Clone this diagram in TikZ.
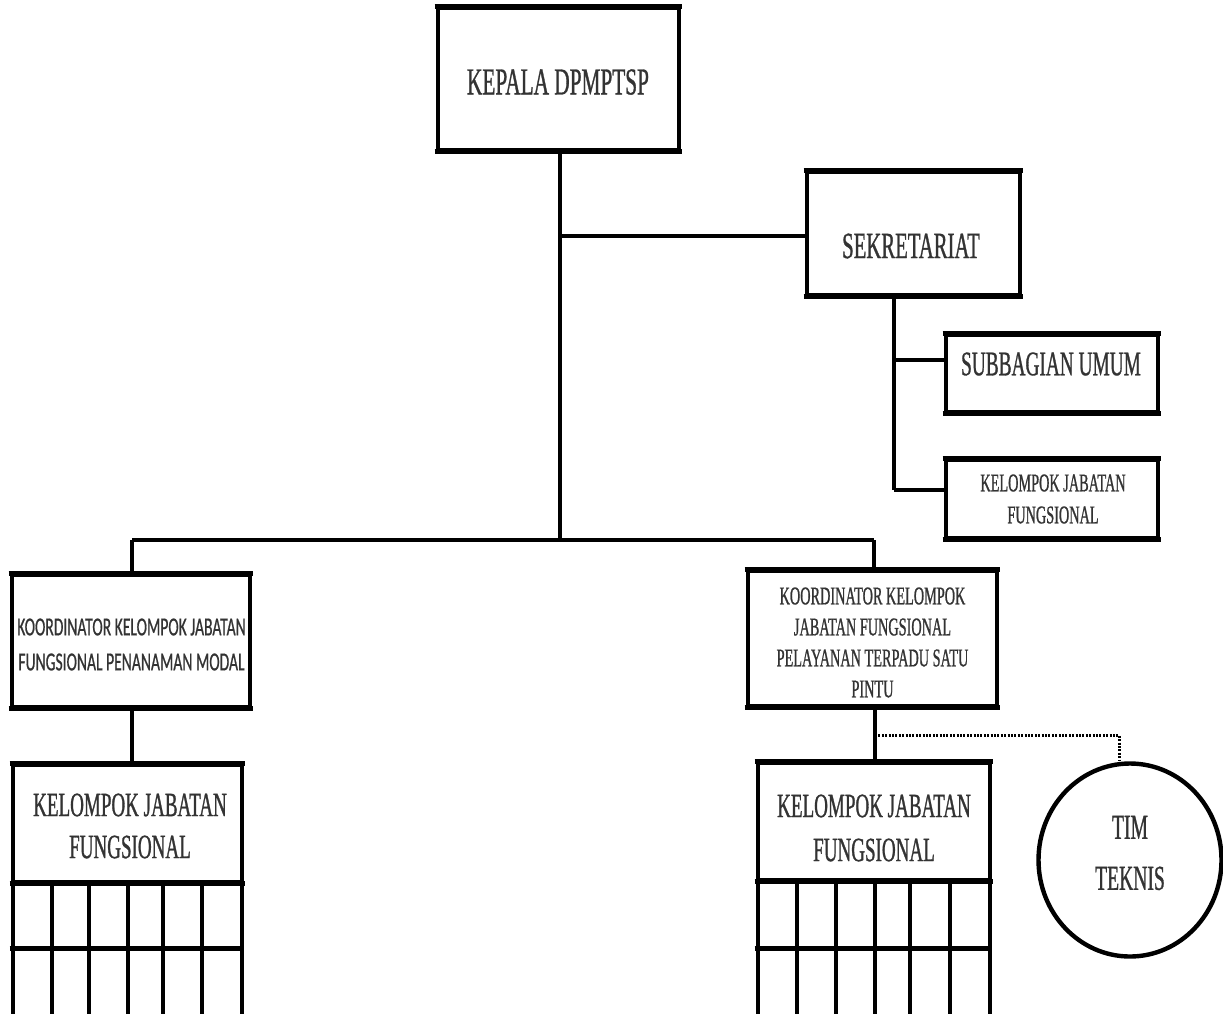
\documentclass[tikz,border=0pt]{standalone}
\usepackage{fontspec}
\newfontfamily\cond{Liberation Serif}[FakeStretch=0.56,FakeBold=0.8]
\newfontfamily\condsans{Carlito}[FakeStretch=0.6,FakeBold=0.6]
\usetikzlibrary{shapes.geometric}
\tikzset{
  box/.style={draw=black, line width=3.4pt, inner sep=0pt, fill=white},
  txt/.style={inner sep=0pt, align=center, text=black!80},
  conn/.style={draw=black, line width=3.4pt},
  hconn/.style={draw=black, line width=4.4pt},
  thickedge/.style={draw=black, line width=5pt},
  gridline/.style={draw=black, line width=3.4pt},
  dots/.style={draw=black, line width=3pt, dash pattern=on 2pt off 1.4pt},
}
\begin{document}
\begin{tikzpicture}[x=1pt,y=-1pt]
\useasboundingbox[fill=white] (0,0) rectangle (1223,1013);

% junction coordinates
\coordinate (jk) at (560,236);
\coordinate (mb) at (560,540);
\coordinate (mbL) at (132,540);
\coordinate (mbR) at (874,540);
\coordinate (sekj1) at (894,360);
\coordinate (sekj2) at (894,490);
\coordinate (dj1) at (875,735);
\coordinate (dj2) at (1119,735);

% boxes
\node[box, minimum width=241pt, minimum height=142pt] (kepala) at (558.5,79) {};
\node[box, minimum width=213pt, minimum height=123pt] (sek) at (913.5,233.5) {};
\node[box, minimum width=212pt, minimum height=77pt] (sub) at (1052,373.5) {};
\node[box, minimum width=212pt, minimum height=78pt] (kjfs) at (1052,499) {};
\node[box, minimum width=238pt, minimum height=132pt] (koordL) at (131,641) {};
\node[box, minimum width=249pt, minimum height=135pt] (koordR) at (872.5,638.5) {};
\node[box, minimum width=229pt, minimum height=117pt] (kjfL) at (127.5,823.5) {};
\node[box, minimum width=232pt, minimum height=117pt] (kjfR) at (874,821.5) {};
\node[draw=black, line width=4.4pt, ellipse, minimum width=183pt, minimum height=193pt, inner sep=0pt] (tim) at (1130,860) {};

% thicker top/bottom edges
\foreach \n in {kepala,sek,sub,kjfs,koordL,koordR,kjfL,kjfR}{
  \draw[thickedge] ([xshift=-1.7pt]\n.north west) -- ([xshift=1.7pt]\n.north east);
  \draw[thickedge] ([xshift=-1.7pt]\n.south west) -- ([xshift=1.7pt]\n.south east);
}

% connectors
\draw[conn] (kepala.south -| mb) -- (mb);
\draw[hconn] (jk) -- (jk -| sek.west);
\draw[conn, line width=3.8pt] (mbL) -- (mbR);
\draw[conn] (mbL) -- (mbL |- koordL.north);
\draw[conn] (mbR) -- (mbR |- koordR.north);
\draw[conn] (sek.south -| sekj1) -- (sekj2);
\draw[hconn] (sekj1) -- (sekj1 -| sub.west);
\draw[hconn] (sekj2) -- (sekj2 -| kjfs.west);
\draw[conn] (koordL.south -| mbL) -- (kjfL.north -| mbL);
\draw[conn] (koordR.south -| dj1) -- (kjfR.north -| dj1);
\draw[dots] (dj1) -- (dj2) -- (dj2 |- tim.north);

% grids
\foreach \x in {13,52,89,128,163,202,242}{
  \draw[gridline] (\x,882) -- (\x,1015);
}
\draw[thickedge] ([xshift=-1.7pt]kjfL.south west) ++(0,65) -- ++(232.4,0);
\foreach \x in {758,797,836,875,910,950,990}{
  \draw[gridline] (\x,880) -- (\x,1015);
}
\draw[thickedge] ([xshift=-1.7pt]kjfR.south west) ++(0,67) -- ++(235.4,0);

% texts
\node[txt, font=\cond\fontsize{38}{38}\selectfont] (tkepala) at (558,82) {KEPALA DPMPTSP};
\node[txt, font=\cond\fontsize{37}{37}\selectfont] (tsek) at (911,246) {SEKRETARIAT};
\node[txt, font=\cond\fontsize{34.5}{34.5}\selectfont] (tsub) at (1051,364) {SUBBAGIAN UMUM};
\node[txt, font=\cond\fontsize{25.5}{32}\selectfont] (tkjfs) at (1053,499) {KELOMPOK JABATAN\\FUNGSIONAL};
\node[txt, font=\condsans\fontsize{26}{35}\selectfont] (tkoordL) at (131.5,644.5) {KOORDINATOR KELOMPOK JABATAN\\FUNGSIONAL PENANAMAN MODAL};
\node[txt, font=\cond\fontsize{25.5}{31}\selectfont] (tkoordR) at (872.5,642.5) {KOORDINATOR KELOMPOK\\JABATAN FUNGSIONAL\\PELAYANAN TERPADU SATU\\PINTU};
\node[txt, font=\cond\fontsize{34}{42}\selectfont] (tkjfL) at (130,826) {KELOMPOK JABATAN\\FUNGSIONAL};
\node[txt, font=\cond\fontsize{34}{44}\selectfont] (tkjfR) at (874,828) {KELOMPOK JABATAN\\FUNGSIONAL};
\node[txt, font=\cond\fontsize{35}{51}\selectfont] (ttim) at (1130,853) {TIM\\TEKNIS};
\end{tikzpicture}
\end{document}
